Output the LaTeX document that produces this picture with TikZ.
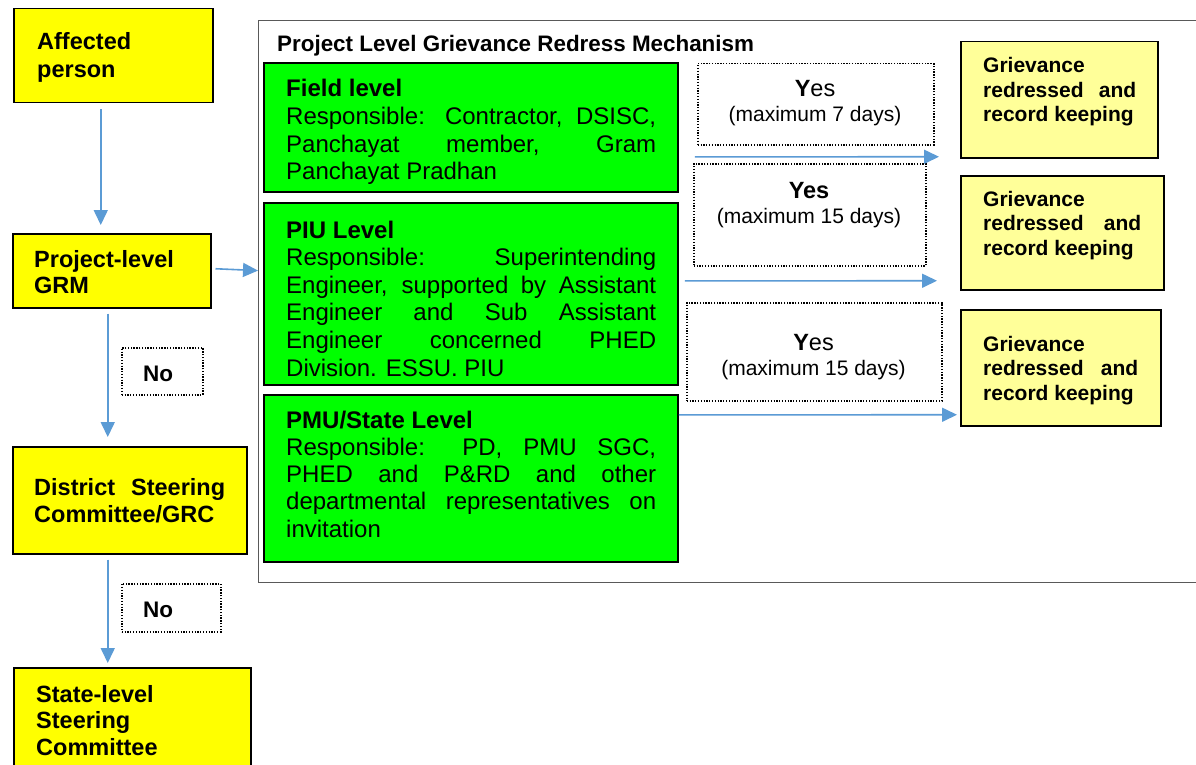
\documentclass[tikz,border=0pt]{standalone}
\usepackage{fontspec}
\setmainfont{Liberation Sans}
\usetikzlibrary{arrows.meta}
\definecolor{yelA}{RGB}{255,255,0}
\definecolor{yelB}{RGB}{255,255,153}
\definecolor{grn}{RGB}{0,255,0}
\definecolor{arrblue}{RGB}{91,155,213}
\newcommand\myfs[2]{\fontsize{#1}{#2}\selectfont}
\begin{document}
\begin{tikzpicture}[x=1pt,y=-1pt,
  ybox/.style={draw=black,line width=1.5pt,fill=yelA,inner sep=0pt,anchor=north west},
  gbox/.style={draw=black,line width=1.8pt,fill=grn,inner sep=0pt,anchor=north west},
  lbox/.style={draw=black,line width=1.5pt,fill=yelB,inner sep=0pt,anchor=north west},
  dbox/.style={draw=black,line width=1.5pt,dash pattern=on 1.3pt off 1.5pt,inner sep=0pt,anchor=north west},
  obox/.style={draw=black!65,line width=1.2pt,inner sep=0pt,anchor=north west},
  txt/.style={inner sep=0pt,anchor=base west},
  ctxt/.style={inner sep=0pt,anchor=base},
  arr/.style={draw=arrblue,line width=1.6pt,-{Triangle[length=15pt,width=14pt]}}
]
\useasboundingbox (0,0) rectangle (1196,765);
\fill[white] (0,0) rectangle (1196,765);

% outer mechanism box
\node[obox,minimum width=960,minimum height=562] (mech) at (258,20) {};
\node[txt] (title) at (277,52) {\myfs{22.4}{26}\bfseries Project Level Grievance Redress Mechanism};

% left column
\node[ybox,minimum width=199,minimum height=94] (aff) at (13,8) {};
\node[ybox,minimum width=198,minimum height=74] (grm) at (12,233) {};
\node[ybox,minimum width=234,minimum height=107] (dsc) at (12,446) {};
\node[ybox,minimum width=237,minimum height=115] (slc) at (13,667) {};

\node[txt] (taff) at (37,50) {\parbox[t]{180pt}{\myfs{23.5}{27.5}\bfseries\raggedright Affected\\person}};
\node[txt] (tgrm) at (34,267) {\parbox[t]{180pt}{\myfs{23.5}{26.5}\bfseries\raggedright Project-level\\GRM}};
\node[txt] (tdsc) at (34,495) {\parbox[t]{200pt}{\myfs{23.5}{27}\bfseries\raggedright \makebox[191pt][s]{District Steering}\\Committee/GRC}};
\node[txt] (tslc) at (36,702) {\parbox[t]{200pt}{\myfs{23.5}{26.5}\bfseries\raggedright State-level\\Steering\\Committee}};

\node[dbox,minimum width=81,minimum height=47] (no1) at (121,347) {};
\node[dbox,minimum width=99,minimum height=48] (no2) at (121,583) {};
\node[txt] (tno1) at (143,381) {\myfs{22.5}{26}\bfseries No};
\node[txt] (tno2) at (143,617) {\myfs{22.5}{26}\bfseries No};

% green boxes
\node[gbox,minimum width=414,minimum height=129] (field) at (263,62) {};
\node[gbox,minimum width=414,minimum height=182] (piu) at (263,202) {};
\node[gbox,minimum width=414,minimum height=167] (pmu) at (263,394) {};

\node[txt] (tfield) at (286,97) {\parbox[t]{372pt}{\myfs{24}{27.6}\raggedright
  \textbf{Field level}\\
  \makebox[370pt][s]{Responsible: Contractor, DSISC,}\\
  \makebox[370pt][s]{Panchayat member, Gram}\\
  Panchayat Pradhan}};
\node[txt] (tpiu) at (286,238) {\parbox[t]{372pt}{\myfs{24}{27.6}\raggedright
  \textbf{PIU Level}\\
  \makebox[370pt][s]{Responsible: Superintending}\\
  \makebox[370pt][s]{Engineer, supported by Assistant}\\
  \makebox[370pt][s]{Engineer and Sub Assistant}\\
  \makebox[370pt][s]{Engineer concerned PHED}\\
  Division. ESSU. PIU}};
\node[txt] (tpmu) at (286,428) {\parbox[t]{372pt}{\myfs{24}{27.3}\raggedright
  \textbf{PMU/State Level}\\
  \makebox[370pt][s]{Responsible: PD, PMU SGC,}\\
  \makebox[370pt][s]{PHED and P\&RD and other}\\
  \makebox[370pt][s]{departmental representatives on}\\
  invitation}};

% yes boxes
\node[dbox,minimum width=236,minimum height=81] (y1) at (697,63) {};
\node[dbox,minimum width=232,minimum height=102] (y2) at (693,163) {};
\node[dbox,minimum width=255,minimum height=98] (y3) at (686,302) {};

\node[ctxt] (ty1) at (815,97) {\parbox[t]{230pt}{\centering\myfs{21}{25}{\myfs{23.5}{25}\textbf{Y}es}\\(maximum 7 days)}};
\node[ctxt] (ty2) at (809,198) {\parbox[t]{230pt}{\centering\myfs{21}{25}{\myfs{23.5}{25}\textbf{Yes}}\\(maximum 15 days)}};
\node[ctxt] (ty3) at (813.5,350) {\parbox[t]{250pt}{\centering\myfs{21}{25}{\myfs{23.5}{25}\textbf{Y}es}\\(maximum 15 days)}};

% grievance boxes
\node[lbox,minimum width=197,minimum height=116] (g1) at (960,41) {};
\node[lbox,minimum width=203,minimum height=114] (g2) at (960,175) {};
\node[lbox,minimum width=200,minimum height=116] (g3) at (960,309) {};

\node[txt] (tg1) at (983,73) {\parbox[t]{170pt}{\myfs{21}{24.5}\bfseries\raggedright Grievance\\\makebox[153pt][s]{redressed and}\\record keeping}};
\node[txt] (tg2) at (983,206) {\parbox[t]{170pt}{\myfs{21}{24.5}\bfseries\raggedright Grievance\\\makebox[158pt][s]{redressed and}\\record keeping}};
\node[txt] (tg3) at (983,351) {\parbox[t]{170pt}{\myfs{21}{24.5}\bfseries\raggedright Grievance\\\makebox[155pt][s]{redressed and}\\record keeping}};

% connectors
\draw[arr] ([shift={(-12.5,6)}]aff.south) -- ([shift={(-11,-8)}]grm.north);
\draw[arr] ([shift={(4,-2)}]grm.east) -- ([shift={(0,-31)}]mech.west);
\draw[arr] ([shift={(-4,5)}]grm.south) -- ([shift={(-22,-9)}]dsc.north);
\draw[arr] ([shift={(-22,5)}]dsc.south) -- ([shift={(-24.5,-4)}]slc.north);

\draw[arr] ([shift={(16,29.5)}]field.east) -- ([shift={(-21,57)}]g1.west);
\draw[arr] ([shift={(6,-13)}]piu.east) -- ([shift={(-23,48)}]g2.west);
\draw[arr] ([shift={(0,-63.5)}]pmu.east) -- ([shift={(-3,47)}]g3.west);
\end{tikzpicture}
\end{document}
